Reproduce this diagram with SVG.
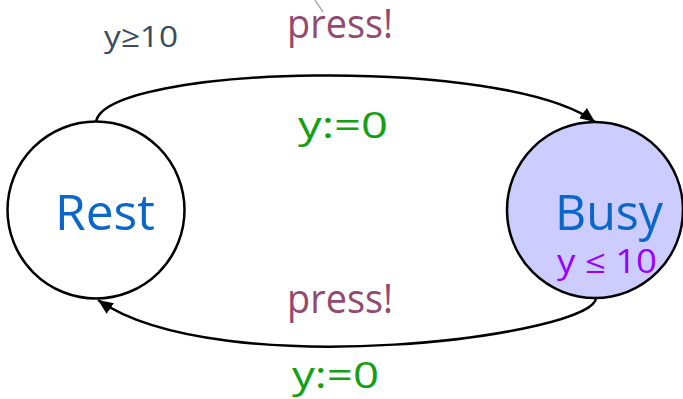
<svg xmlns="http://www.w3.org/2000/svg" width="683" height="399" viewBox="0 0 683 399">
  <defs>
    <marker id="arrow" viewBox="0 0 14 12" refX="14" refY="6" markerWidth="15" markerHeight="13" markerUnits="userSpaceOnUse" orient="auto">
      <path d="M0,0 L14,6 L0,12 Z" fill="#000"/>
    </marker>
  </defs>
  <style>
    text { font-family: "Open Sans", "Noto Sans", "DejaVu Sans", sans-serif; }
    .state { stroke: #000; stroke-width: 2.5; }
    .name { font-size: 50px; fill: #0a66c8; }
    .edge { fill: none; stroke: #000; stroke-width: 2.5; marker-end: url(#arrow); }
    .sync { font-size: 41px; fill: #944a6e; }
    .update { font-size: 37px; fill: #14a014; }
    .guard { font-size: 30px; fill: #3c4a62; }
    .inv { font-size: 32px; fill: #9900ff; }
  </style>

  <!-- stray leader line -->
  <line x1="315" y1="0" x2="323" y2="12" stroke="#b0b0b0" stroke-width="1.5"/>

  <g id="connectors">
    <g id="rest-to-busy">
      <path class="edge" d="M96,122 C105,65 505,55 595,122"/>
      <text class="guard" x="104" y="47" textLength="74" lengthAdjust="spacingAndGlyphs">y≥10</text>
      <text class="sync" x="287" y="38" textLength="106" lengthAdjust="spacingAndGlyphs">press!</text>
      <text class="update" x="298" y="138" textLength="90" lengthAdjust="spacingAndGlyphs">y:=0</text>
    </g>
    <g id="busy-to-rest">
      <path class="edge" d="M596,297 C600,335 220,385 98,300"/>
      <text class="sync" x="287" y="313" textLength="106" lengthAdjust="spacingAndGlyphs">press!</text>
      <text class="update" x="292" y="388" textLength="87" lengthAdjust="spacingAndGlyphs">y:=0</text>
    </g>
  </g>

  <g id="rest">
    <circle class="state" cx="96" cy="210" r="88.5" fill="#fff"/>
    <text class="name" x="55" y="230" textLength="100" lengthAdjust="spacingAndGlyphs">Rest</text>
  </g>

  <g id="busy">
    <circle class="state" cx="595" cy="210" r="88" fill="#ccccff"/>
    <text class="name" x="555" y="230" textLength="108" lengthAdjust="spacingAndGlyphs">Busy</text>
    <text class="inv" x="557" y="273" textLength="100" lengthAdjust="spacingAndGlyphs">y ≤ 10</text>
  </g>
</svg>
